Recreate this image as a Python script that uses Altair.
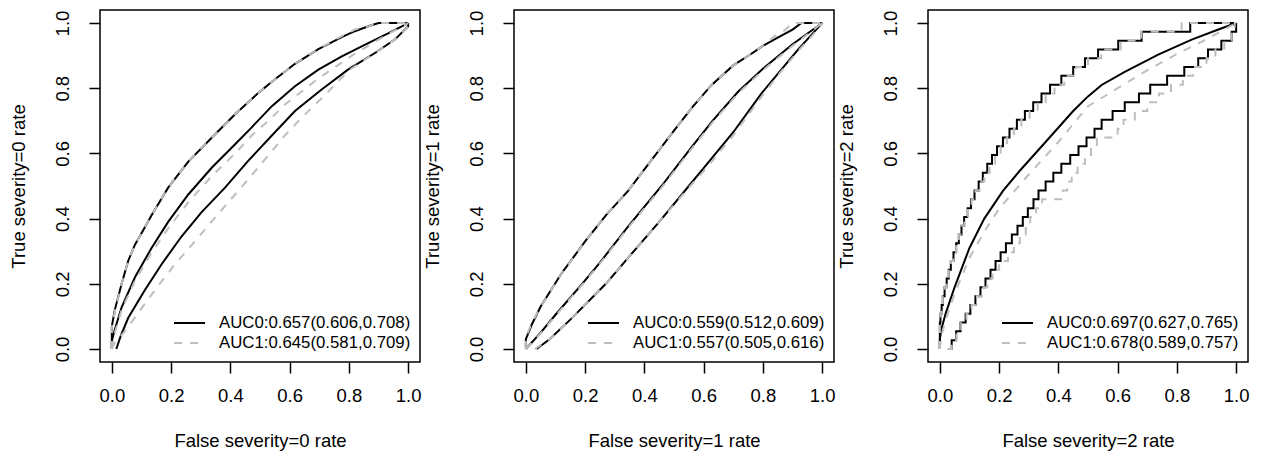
import altair as alt
import pandas as pd

# ---------------- data ----------------
# Panel 1 (severity=0)
p1_upper0_x = [0, 0, 0.01, 0.033, 0.055, 0.078, 0.1, 0.134, 0.19, 0.258, 0.337, 0.416, 0.494, 0.54, 0.618, 0.697, 0.776, 0.82, 0.866, 0.9, 1.0]
p1_upper0_y = [0, 0.07, 0.12, 0.2, 0.27, 0.32, 0.355, 0.41, 0.495, 0.575, 0.648, 0.72, 0.785, 0.82, 0.875, 0.92, 0.957, 0.975, 0.99, 1.0, 1.0]
p1_center0_x = [0, 0, 0.01, 0.033, 0.078, 0.134, 0.19, 0.258, 0.337, 0.416, 0.472, 0.54, 0.618, 0.697, 0.776, 0.855, 0.934, 1.0]
p1_center0_y = [0, 0.025, 0.06, 0.128, 0.22, 0.31, 0.39, 0.474, 0.556, 0.628, 0.68, 0.745, 0.806, 0.857, 0.898, 0.934, 0.969, 1.0]
p1_lower0_x = [0.015, 0.03, 0.055, 0.111, 0.168, 0.235, 0.303, 0.382, 0.46, 0.54, 0.618, 0.708, 0.797, 0.888, 0.956, 1.0, 1.0]
p1_lower0_y = [0, 0.04, 0.095, 0.18, 0.26, 0.345, 0.42, 0.495, 0.577, 0.655, 0.73, 0.796, 0.857, 0.908, 0.95, 0.99, 1.0]
p1_upper1_x = [0, 0, 0.01, 0.033, 0.055, 0.078, 0.1, 0.134, 0.19, 0.258, 0.337, 0.416, 0.494, 0.54, 0.618, 0.697, 0.776, 0.82, 0.87, 0.89, 1.0]
p1_upper1_y = [0, 0.065, 0.115, 0.2, 0.27, 0.32, 0.355, 0.41, 0.495, 0.575, 0.648, 0.72, 0.785, 0.82, 0.875, 0.92, 0.96, 0.98, 0.99, 1.0, 1.0]
p1_center1_x = [0, 0.01, 0.033, 0.078, 0.134, 0.19, 0.258, 0.337, 0.416, 0.472, 0.54, 0.584, 0.697, 0.81, 0.92, 1.0]
p1_center1_y = [0, 0.05, 0.12, 0.21, 0.295, 0.37, 0.45, 0.53, 0.6, 0.655, 0.71, 0.75, 0.83, 0.9, 0.96, 1.0]
p1_lower1_x = [0, 0.01, 0.04, 0.078, 0.145, 0.213, 0.28, 0.348, 0.416, 0.483, 0.529, 0.584, 0.64, 0.72, 0.8, 0.888, 0.956, 1.0, 1.0]
p1_lower1_y = [0, 0.02, 0.05, 0.097, 0.18, 0.26, 0.33, 0.403, 0.474, 0.545, 0.595, 0.655, 0.709, 0.78, 0.855, 0.908, 0.95, 0.99, 1.0]

# Panel 2 (severity=1)
p2_upper0_x = [0, 0, 0.02, 0.05, 0.119, 0.2, 0.27, 0.345, 0.42, 0.5, 0.56, 0.627, 0.7, 0.76, 0.8, 0.85, 0.9, 0.93, 1.0]
p2_upper0_y = [0, 0.03, 0.075, 0.13, 0.23, 0.33, 0.41, 0.485, 0.575, 0.67, 0.74, 0.81, 0.87, 0.905, 0.93, 0.955, 0.98, 1.0, 1.0]
p2_center0_x = [0, 0.05, 0.1, 0.19, 0.25, 0.34, 0.458, 0.56, 0.63, 0.717, 0.8, 0.9, 1.0]
p2_center0_y = [0, 0.05, 0.105, 0.2, 0.265, 0.37, 0.5, 0.62, 0.7, 0.79, 0.86, 0.935, 1.0]
p2_lower0_x = [0.036, 0.08, 0.15, 0.27, 0.35, 0.45, 0.55, 0.6, 0.7, 0.796, 0.86, 0.92, 0.97, 1.0]
p2_lower0_y = [0, 0.03, 0.09, 0.2, 0.285, 0.39, 0.5, 0.555, 0.665, 0.785, 0.855, 0.92, 0.97, 1.0]
p2_upper1_x = [0, 0, 0.02, 0.05, 0.119, 0.2, 0.27, 0.345, 0.42, 0.5, 0.56, 0.627, 0.7, 0.76, 0.8, 0.84, 0.87, 0.9, 1.0]
p2_upper1_y = [0, 0.035, 0.08, 0.13, 0.23, 0.33, 0.41, 0.485, 0.575, 0.67, 0.74, 0.81, 0.87, 0.905, 0.93, 0.96, 0.975, 1.0, 1.0]
p2_center1_x = [0, 0.05, 0.1, 0.19, 0.25, 0.34, 0.458, 0.56, 0.63, 0.717, 0.8, 0.9, 1.0]
p2_center1_y = [0, 0.048, 0.102, 0.197, 0.262, 0.366, 0.495, 0.615, 0.695, 0.785, 0.855, 0.93, 1.0]
p2_lower1_x = [0.03, 0.08, 0.15, 0.27, 0.35, 0.45, 0.55, 0.6, 0.7, 0.796, 0.86, 0.92, 0.97, 1.0]
p2_lower1_y = [0, 0.03, 0.09, 0.2, 0.285, 0.39, 0.495, 0.545, 0.655, 0.775, 0.85, 0.915, 0.965, 1.0]

# Panel 3 (severity=2): smooth centre curves
p3_center0_x = [0, 0, 0.005, 0.02, 0.05, 0.1, 0.15, 0.213, 0.269, 0.35, 0.45, 0.5, 0.546, 0.624, 0.737, 0.85, 0.94, 1.0]
p3_center0_y = [0, 0.03, 0.06, 0.11, 0.19, 0.31, 0.40, 0.485, 0.546, 0.628, 0.73, 0.775, 0.81, 0.85, 0.903, 0.949, 0.98, 1.0]
p3_center1_x = [0, 0.005, 0.02, 0.05, 0.1, 0.15, 0.2, 0.252, 0.3, 0.4, 0.5, 0.546, 0.6, 0.7, 0.8, 0.9, 0.95, 1.0]
p3_center1_y = [0, 0.04, 0.09, 0.17, 0.28, 0.36, 0.43, 0.485, 0.535, 0.635, 0.745, 0.77, 0.8, 0.855, 0.905, 0.95, 0.975, 1.0]
# Panel 3: stepped confidence bands (sensitivity levels and their false-rate positions)
p3_levels = [0, 0.027, 0.054, 0.081, 0.108, 0.135, 0.162, 0.189, 0.216, 0.243, 0.270, 0.297, 0.324,
             0.351, 0.378, 0.405, 0.432, 0.459, 0.486, 0.514, 0.541, 0.568, 0.595, 0.622, 0.649,
             0.676, 0.703, 0.730, 0.757, 0.784, 0.811, 0.838, 0.865, 0.892, 0.919, 0.946, 0.973, 1.0]
p3_upper0_x = [0, 0, 0, 0, 0.002, 0.006, 0.01, 0.016, 0.023, 0.03, 0.037, 0.046, 0.055, 0.064, 0.073,
               0.082, 0.094, 0.105, 0.117, 0.131, 0.145, 0.16, 0.176, 0.193, 0.213, 0.235, 0.26,
               0.287, 0.315, 0.343, 0.372, 0.41, 0.45, 0.49, 0.534, 0.602, 0.681, 0.845]
p3_upper1_x = [0, 0, 0, 0, 0.002, 0.006, 0.01, 0.016, 0.023, 0.03, 0.037, 0.046, 0.055, 0.064, 0.073,
               0.083, 0.095, 0.107, 0.12, 0.135, 0.15, 0.168, 0.186, 0.205, 0.226, 0.25, 0.275,
               0.303, 0.33, 0.357, 0.387, 0.42, 0.46, 0.5, 0.545, 0.61, 0.68, 0.816]
p3_lower0_x = [0.027, 0.04, 0.055, 0.07, 0.087, 0.103, 0.12, 0.137, 0.154, 0.171, 0.188, 0.205, 0.223,
               0.243, 0.262, 0.28, 0.297, 0.316, 0.333, 0.357, 0.383, 0.41, 0.44, 0.468, 0.495,
               0.522, 0.546, 0.583, 0.624, 0.672, 0.71, 0.767, 0.825, 0.872, 0.905, 0.95, 0.985, 1.0]
p3_lower1_x = [0.027, 0.04, 0.056, 0.072, 0.09, 0.107, 0.125, 0.142, 0.16, 0.178, 0.2, 0.23, 0.25,
               0.27, 0.29, 0.305, 0.325, 0.345, 0.415, 0.43, 0.445, 0.465, 0.49, 0.51, 0.53,
               0.6, 0.62, 0.658, 0.7, 0.74, 0.78, 0.82, 0.855, 0.9, 0.93, 0.96, 0.985, 0.995]
p3_end_x = [1.0]
p3_end_y = [1.0]

x_titles = ["False severity=0 rate", "False severity=1 rate", "False severity=2 rate"]
y_titles = ["True severity=0 rate", "True severity=1 rate", "True severity=2 rate"]
legend_auc0 = ["AUC0:0.657(0.606,0.708)", "AUC0:0.559(0.512,0.609)", "AUC0:0.697(0.627,0.765)"]
legend_auc1 = ["AUC1:0.645(0.581,0.709)", "AUC1:0.557(0.505,0.616)", "AUC1:0.678(0.589,0.757)"]
tick_values = [0.0, 0.2, 0.4, 0.6, 0.8, 1.0]

# ---------------- styling ----------------
FONT = "Liberation Sans"
BLACK = "#000000"
GRAY = "#BEBEBE"
DASH = [8, 8]
LW = 2
W, H = 320, 352
DOM = [-0.04, 1.04]


def frame(curves):
    rows = []
    for name, (xs, ys) in curves.items():
        for i, (x, y) in enumerate(zip(xs, ys)):
            rows.append({"x": x, "y": y, "s": name, "i": i})
    return pd.DataFrame(rows)


def enc(k):
    return dict(
        x=alt.X("x:Q", scale=alt.Scale(domain=DOM, nice=False, zero=False),
                axis=alt.Axis(values=tick_values, format=".1f", title=x_titles[k],
                              labelFlush=False, labelOverlap=False)),
        y=alt.Y("y:Q", scale=alt.Scale(domain=DOM, nice=False, zero=False),
                axis=alt.Axis(values=tick_values, format=".1f", title=y_titles[k],
                              labelAngle=270, labelAlign="center", labelBaseline="middle",
                              labelFlush=False, labelOverlap=False)),
        detail="s:N",
        order="i:Q",
    )


def lines(k, curves, color, dashed, interp):
    kw = dict(color=color, strokeWidth=LW, interpolate=interp)
    if dashed:
        kw["strokeDash"] = DASH
    return alt.Chart(frame(curves)).mark_line(**kw).encode(**enc(k))


def legend(k):
    one = pd.DataFrame({"a": [0]})
    r1 = alt.Chart(one).mark_rule(color=BLACK, strokeWidth=LW).encode(
        x=alt.value(74), x2=alt.value(105), y=alt.value(313))
    r2 = alt.Chart(one).mark_rule(color=GRAY, strokeWidth=LW, strokeDash=DASH).encode(
        x=alt.value(74), x2=alt.value(105), y=alt.value(333))
    t1 = alt.Chart(one).mark_text(align="left", baseline="middle", fontSize=16.8, font=FONT,
                                  color=BLACK).encode(
        x=alt.value(119), y=alt.value(313), text=alt.value(legend_auc0[k]))
    t2 = alt.Chart(one).mark_text(align="left", baseline="middle", fontSize=16.8, font=FONT,
                                  color=BLACK).encode(
        x=alt.value(119), y=alt.value(333), text=alt.value(legend_auc1[k]))
    return [r1, r2, t1, t2]


def step_curve(xs, end=True):
    ys = list(p3_levels)
    xs = list(xs)
    if end:
        xs = xs + p3_end_x
        ys = ys + p3_end_y
    return (xs, ys)


panels = []
# panel 1
k = 0
panels.append(alt.layer(
    lines(k, {"u": (p1_upper0_x, p1_upper0_y), "c": (p1_center0_x, p1_center0_y),
              "l": (p1_lower0_x, p1_lower0_y)}, BLACK, False, "linear"),
    lines(k, {"u": (p1_upper1_x, p1_upper1_y), "c": (p1_center1_x, p1_center1_y),
              "l": (p1_lower1_x, p1_lower1_y)}, GRAY, True, "linear"),
    *legend(k)).properties(width=W, height=H))
# panel 2
k = 1
panels.append(alt.layer(
    lines(k, {"u": (p2_upper0_x, p2_upper0_y), "c": (p2_center0_x, p2_center0_y),
              "l": (p2_lower0_x, p2_lower0_y)}, BLACK, False, "linear"),
    lines(k, {"u": (p2_upper1_x, p2_upper1_y), "c": (p2_center1_x, p2_center1_y),
              "l": (p2_lower1_x, p2_lower1_y)}, GRAY, True, "linear"),
    *legend(k)).properties(width=W, height=H))
# panel 3
k = 2
panels.append(alt.layer(
    lines(k, {"c": (p3_center0_x, p3_center0_y)}, BLACK, False, "linear"),
    lines(k, {"u": step_curve(p3_upper0_x), "l": step_curve(p3_lower0_x, end=False)},
          BLACK, False, "step-after"),
    lines(k, {"c": (p3_center1_x, p3_center1_y)}, GRAY, True, "linear"),
    lines(k, {"u": step_curve(p3_upper1_x), "l": step_curve(p3_lower1_x)},
          GRAY, True, "step-after"),
    *legend(k)).properties(width=W, height=H))

chart = alt.hconcat(*panels, spacing=94, bounds="flush").properties(
    padding={"left": 0, "top": 1, "right": 2, "bottom": 2}
).configure(font=FONT).configure_view(
    stroke=BLACK, strokeWidth=1.5
).configure_axis(
    domain=False, grid=False, ticks=True, tickColor=BLACK, tickWidth=1.5, tickSize=11,
    labelFont=FONT, labelFontSize=18.5, labelColor=BLACK,
    titleFont=FONT, titleFontSize=18.5, titleFontWeight="normal", titleColor=BLACK
).configure_axisX(labelPadding=13, titlePadding=27).configure_axisY(labelPadding=27, titlePadding=25)

chart.save("out.html", embed_options={"renderer": "svg", "actions": False})
